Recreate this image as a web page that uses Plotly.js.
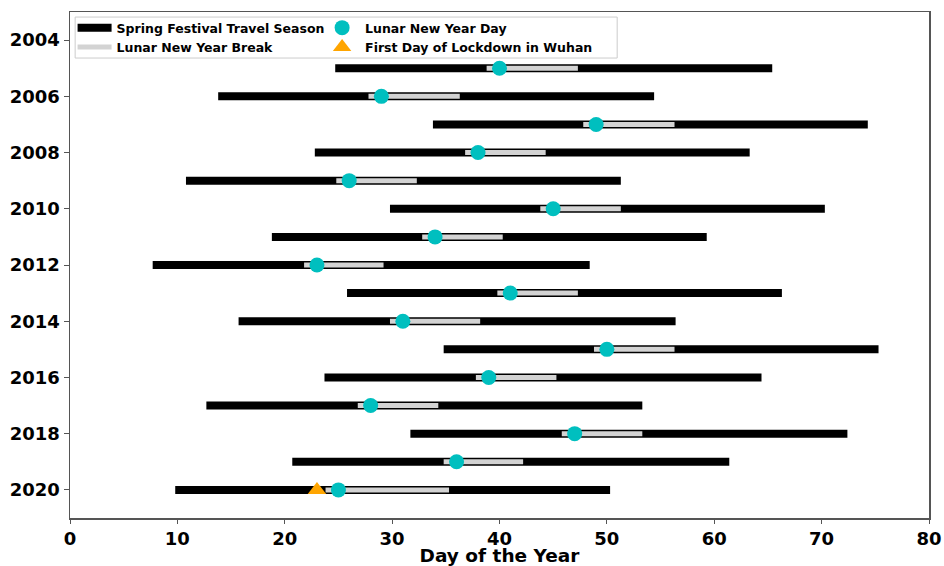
<!DOCTYPE html>
<html>
<head>
<meta charset="utf-8">
<script src="https://cdn.plot.ly/plotly-3.0.1.min.js"></script>
<style>html,body{margin:0;padding:0;background:#fff;}#chart{width:944px;height:566px;}</style>
</head>
<body>
<div id="chart"></div>
<script>
var years = [2005, 2006, 2007, 2008, 2009, 2010, 2011, 2012, 2013, 2014, 2015, 2016, 2017, 2018, 2019, 2020];
var seasonStart = [24.7, 13.8, 33.8, 22.8, 10.8, 29.8, 18.8, 7.7, 25.8, 15.7, 34.8, 23.7, 12.7, 31.7, 20.7, 9.8];
var seasonEnd = [65.4, 54.4, 74.3, 63.3, 51.3, 70.3, 59.3, 48.4, 66.3, 56.4, 75.3, 64.4, 53.3, 72.4, 61.4, 50.3];
var lunarNewYear = [40, 29, 49, 38, 26, 45, 34, 23, 41, 31, 50, 39, 28, 47, 36, 25];
var breakStart = [38.8, 27.8, 47.8, 36.8, 24.8, 43.8, 32.8, 21.8, 39.8, 29.8, 48.8, 37.8, 26.8, 45.8, 34.8, 23.8];
var breakEnd = [47.3, 36.3, 56.3, 44.3, 32.3, 51.3, 40.3, 29.2, 47.3, 38.2, 56.3, 45.3, 34.3, 53.3, 42.2, 35.3];
var lockdownYear = [2020];
var lockdownDay = [23];
var yTicks = [2004, 2006, 2008, 2010, 2012, 2014, 2016, 2018, 2020];
var xTicks = [0, 10, 20, 30, 40, 50, 60, 70, 80];

function segs(starts, ends) {
  var x = [], y = [];
  for (var i = 0; i < years.length; i++) {
    x.push(starts[i], ends[i], null);
    y.push(years[i], years[i], null);
  }
  return {x: x, y: y};
}
var s = segs(seasonStart, seasonEnd);
var b = segs(breakStart, breakEnd);

var FONT = 'DejaVu Sans, Arial, sans-serif';

var traces = [
  {x: s.x, y: s.y, mode: 'lines', name: 'Spring Festival Travel Season',
   line: {color: '#000000', width: 8}, legend: 'legend', hoverinfo: 'skip'},
  {x: b.x, y: b.y, mode: 'lines', name: 'Lunar New Year Break',
   line: {color: '#D3D3D3', width: 5}, legend: 'legend', hoverinfo: 'skip'},
  {x: lunarNewYear, y: years, mode: 'markers', name: 'Lunar New Year Day',
   marker: {color: '#00BFBF', size: 15, symbol: 'circle'}, legend: 'legend2'},
  {x: lockdownDay, y: lockdownYear, mode: 'markers', name: 'First Day of Lockdown in Wuhan',
   marker: {color: '#FFA500', size: 16, symbol: 'triangle-up'}, legend: 'legend2'}
];

var legendFont = {family: FONT, size: 12.5, weight: 'bold', color: '#000'};

var layout = {
  width: 944, height: 566,
  margin: {l: 70, r: 15, t: 12, b: 48},
  paper_bgcolor: '#ffffff', plot_bgcolor: '#ffffff',
  font: {family: FONT, weight: 'bold', color: '#000'},
  showlegend: true,
  xaxis: {
    range: [0, 80], tickvals: xTicks, ticktext: xTicks.map(String),
    showgrid: false, zeroline: false,
    showline: true, mirror: true, linecolor: '#555', linewidth: 1.5,
    ticks: 'outside', ticklen: 4, tickcolor: '#555', tickwidth: 1,
    tickfont: {family: FONT, size: 18, weight: 'bold', color: '#000'},
    title: {text: 'Day of the Year', font: {family: FONT, size: 18.5, weight: 'bold', color: '#000'}, standoff: 1}
  },
  yaxis: {
    range: [2021, 2003], tickvals: yTicks, ticktext: yTicks.map(String),
    showgrid: false, zeroline: false,
    showline: true, mirror: true, linecolor: '#555', linewidth: 1.5,
    ticks: 'outside', ticklen: 5, tickcolor: '#555', tickwidth: 1,
    tickfont: {family: FONT, size: 18, weight: 'bold', color: '#000'}
  },
  legend: {
    x: 0.003, y: 0.998, xanchor: 'left', yanchor: 'top',
    bgcolor: 'rgba(0,0,0,0)', borderwidth: 0, font: legendFont,
    tracegroupgap: 0, itemwidth: 34
  },
  legend2: {
    x: 0.29, y: 0.998, xanchor: 'left', yanchor: 'top',
    bgcolor: 'rgba(0,0,0,0)', borderwidth: 0, font: legendFont,
    tracegroupgap: 0, itemwidth: 36
  },
  shapes: [{
    type: 'rect', xref: 'paper', yref: 'paper',
    x0: 0.006, x1: 0.637, y0: 0.909, y1: 0.99,
    line: {color: '#CCCCCC', width: 1}, fillcolor: '#ffffff', layer: 'below'
  }]
};

Plotly.newPlot('chart', traces, layout, {displayModeBar: false, staticPlot: true});
</script>
</body>
</html>
